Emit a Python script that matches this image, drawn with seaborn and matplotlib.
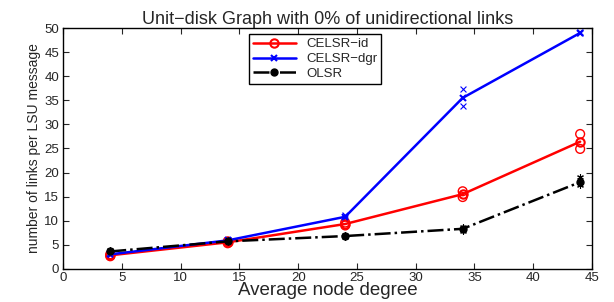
import numpy as np
import pandas as pd
import matplotlib
matplotlib.use("Agg")
import matplotlib.pyplot as plt
import seaborn as sns

# node degree on x
degree = [4, 14, 24, 34, 44]

# mean values per protocol
celsr_id = [2.8, 5.5, 9.3, 15.5, 26.4]
celsr_dgr = [3.0, 5.9, 10.8, 35.5, 49.0]
olsr = [3.6, 5.7, 6.8, 8.3, 18.0]

# min / max samples drawn as loose markers
celsr_id_lo = [2.6, 5.3, 9.0, 14.9, 24.9]
celsr_id_hi = [3.0, 5.7, 9.6, 16.1, 28.0]
celsr_dgr_lo = [2.9, 5.8, 10.5, 33.9, 48.9]
celsr_dgr_hi = [3.1, 6.0, 11.1, 37.3, 49.1]
olsr_lo = [3.4, 5.5, 6.6, 7.9, 17.5]
olsr_hi = [3.8, 5.9, 7.0, 8.7, 19.0]

sns.set_style("white")
plt.rcParams["font.family"] = ["Liberation Sans", "DejaVu Sans"]

df = pd.DataFrame({
    "degree": degree * 3,
    "links": celsr_id + celsr_dgr + olsr,
    "proto": ["CELSR\u2212id"] * 5 + ["CELSR\u2212dgr"] * 5 + ["OLSR"] * 5,
})

fig, ax = plt.subplots(figsize=(6.14, 3.02), dpi=100)
fig.subplots_adjust(left=0.103, right=0.964, bottom=0.11, top=0.907)

styles = {
    "CELSR\u2212id": dict(color="#ff0000", marker="o", ls="-", mfc="none", ms=6, mew=1.5),
    "CELSR\u2212dgr": dict(color="#0000ff", marker="x", ls="-", ms=4, mew=1.5),
    "OLSR": dict(color="black", marker="o", ls="-.", ms=5, mew=1),
}
spread = {
    "CELSR\u2212id": (celsr_id_lo, celsr_id_hi, "o"),
    "CELSR\u2212dgr": (celsr_dgr_lo, celsr_dgr_hi, "x"),
    "OLSR": (olsr_lo, olsr_hi, (6, 2, 0)),
}

for name, st in styles.items():
    sub = df[df["proto"] == name]
    sns.lineplot(data=sub, x="degree", y="links", ax=ax, color=st["color"],
                 linestyle=st["ls"], lw=1.8, marker=st["marker"],
                 markersize=st["ms"], markeredgewidth=st["mew"],
                 markerfacecolor=st["mfc"] if "mfc" in st else st["color"],
                 markeredgecolor=st["color"], label=name)
    lo, hi, mk = spread[name]
    for vals in (lo, hi):
        if mk == "o":
            ax.scatter(degree, vals, s=40, facecolors="none", edgecolors=st["color"], linewidths=1)
        else:
            ax.scatter(degree, vals, s=18, marker=mk, color=st["color"], linewidths=0.8)

ax.set_xlim(0, 45)
ax.set_ylim(0, 50)
ax.set_xticks(np.arange(0, 46, 5))
ax.set_yticks(np.arange(0, 51, 5))
ax.tick_params(direction="in", length=4, width=0.8, labelsize=9.5, top=True, right=True,
               bottom=True, left=True)
ax.tick_params(axis="x", pad=2)
ax.tick_params(axis="y", pad=3)
for sp in ax.spines.values():
    sp.set_linewidth(1.0)
    sp.set_color("black")

ax.set_title("Unit\u2212disk Graph with 0% of unidirectional links", fontsize=13, pad=3)
ax.set_xlabel("Average node degree", fontsize=13.5, labelpad=-1)
ax.set_ylabel("number of links per LSU message", fontsize=10, labelpad=2)

leg = ax.legend(loc="upper left", bbox_to_anchor=(0.352, 0.975), fontsize=9.5,
                frameon=True, fancybox=False, edgecolor="black", framealpha=1,
                borderpad=0.3, labelspacing=0.2, handlelength=3.2, borderaxespad=0)
leg.get_frame().set_linewidth(1.0)

fig.savefig("out.png", dpi=100)
